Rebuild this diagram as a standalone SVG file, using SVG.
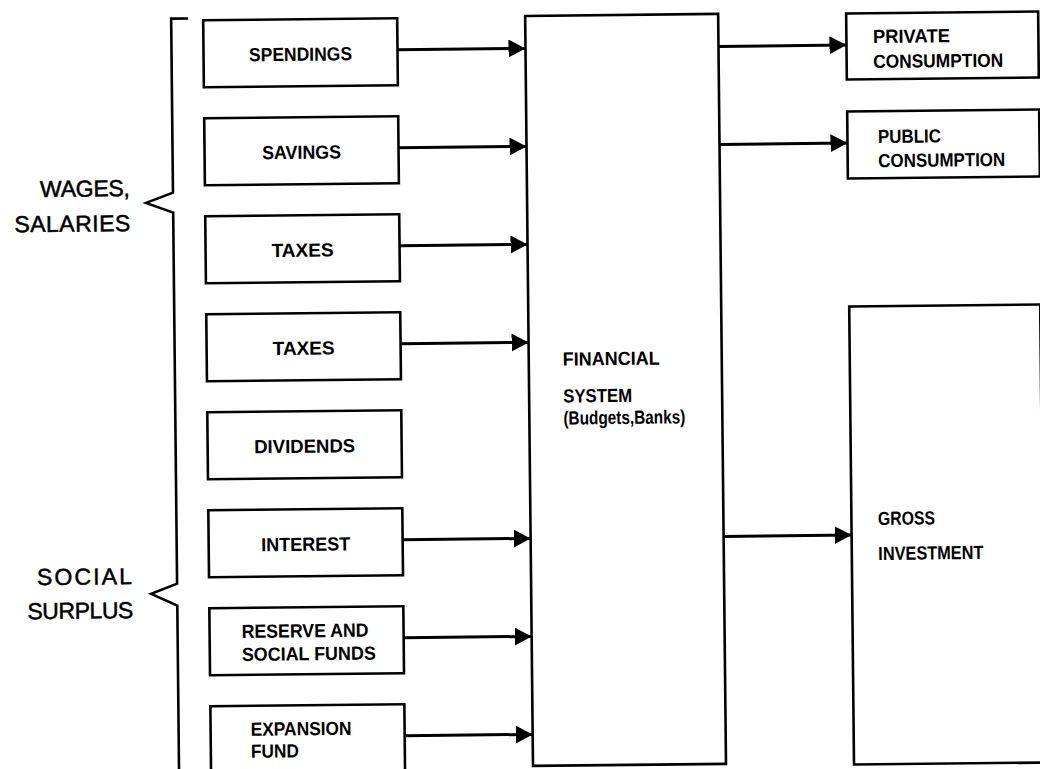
<svg xmlns="http://www.w3.org/2000/svg" width="1040" height="769" viewBox="0 0 1040 769">
<style>
.box{fill:#fff;stroke:#000;stroke-width:2.6}
.lbl{font-family:"Liberation Sans",Arial,sans-serif;font-weight:bold;font-size:19px;fill:#000}
.mid{text-anchor:middle}
.side{font-family:"Liberation Sans",Arial,sans-serif;font-size:23px;fill:#000;stroke:#000;stroke-width:0.5;text-anchor:end}
.con{stroke:#000;stroke-width:3;fill:none;marker-end:url(#ah)}
.br{stroke:#000;stroke-width:2.6;fill:none;stroke-linejoin:miter}
</style>
<defs>
<marker id="ah" markerUnits="userSpaceOnUse" markerWidth="18" markerHeight="19" refX="17" refY="9" orient="auto">
<path d="M0,0 L17,9 L0,18 z" fill="#000"/>
</marker>
</defs>
<rect width="1040" height="769" fill="#fff"/>
<g transform="rotate(-0.6 520 384)">
<g id="bracket">
<path class="br" d="M192,15 H175 V189 L148,199 L175,209 V580 L149,590 L175,602 V790"/>
<text class="side" x="132" y="192" textLength="90">WAGES,</text>
<text class="side" x="132" y="227" textLength="116">SALARIES</text>
<text class="side" x="130" y="580" textLength="95">SOCIAL</text>
<text class="side" x="131" y="614" textLength="106">SURPLUS</text>
</g>
<g id="spendings"><rect class="box" x="207" y="17" width="194" height="67"/><text class="lbl mid" x="304" y="58.5" textLength="103" lengthAdjust="spacingAndGlyphs">SPENDINGS</text></g>
<g id="savings"><rect class="box" x="207" y="115" width="194" height="67"/><text class="lbl mid" x="304" y="156.5" textLength="79" lengthAdjust="spacingAndGlyphs">SAVINGS</text></g>
<g id="taxes1"><rect class="box" x="207" y="213" width="194" height="67"/><text class="lbl mid" x="304" y="254.5" textLength="62" lengthAdjust="spacingAndGlyphs">TAXES</text></g>
<g id="taxes2"><rect class="box" x="207" y="311" width="194" height="67"/><text class="lbl mid" x="304" y="352.5" textLength="62" lengthAdjust="spacingAndGlyphs">TAXES</text></g>
<g id="dividends"><rect class="box" x="207" y="409" width="194" height="67"/><text class="lbl mid" x="304" y="450.5" textLength="101" lengthAdjust="spacingAndGlyphs">DIVIDENDS</text></g>
<g id="interest"><rect class="box" x="207" y="507" width="194" height="67"/><text class="lbl mid" x="304" y="548.5" textLength="89" lengthAdjust="spacingAndGlyphs">INTEREST</text></g>
<g id="reserve"><rect class="box" x="207" y="605" width="194" height="67"/><text class="lbl" x="239" y="635" textLength="127" lengthAdjust="spacingAndGlyphs">RESERVE AND</text><text class="lbl" x="239" y="658" textLength="134" lengthAdjust="spacingAndGlyphs">SOCIAL FUNDS</text></g>
<g id="expansion"><rect class="box" x="207" y="703" width="194" height="70"/><text class="lbl" x="247" y="733" textLength="101" lengthAdjust="spacingAndGlyphs">EXPANSION</text><text class="lbl" x="247" y="755" textLength="48" lengthAdjust="spacingAndGlyphs">FUND</text></g>
<g id="financial"><rect class="box" x="529" y="16" width="193" height="750"/><text class="lbl" x="563" y="366" textLength="97" lengthAdjust="spacingAndGlyphs">FINANCIAL</text><text class="lbl" x="563" y="403" textLength="69" lengthAdjust="spacingAndGlyphs">SYSTEM</text><text class="lbl" x="563" y="425" font-size="15" textLength="122" lengthAdjust="spacingAndGlyphs">(Budgets,Banks)</text></g>
<g id="private"><rect class="box" x="850" y="17" width="192" height="66"/><text class="lbl" x="876.5" y="46.7" textLength="77" lengthAdjust="spacingAndGlyphs">PRIVATE</text><text class="lbl" x="876.5" y="71.7" textLength="130" lengthAdjust="spacingAndGlyphs">CONSUMPTION</text></g>
<g id="public"><rect class="box" x="850" y="115" width="192" height="67"/><text class="lbl" x="880.5" y="146.8" textLength="63" lengthAdjust="spacingAndGlyphs">PUBLIC</text><text class="lbl" x="880.5" y="171" textLength="127" lengthAdjust="spacingAndGlyphs">CONSUMPTION</text></g>
<g id="gross"><rect class="box" x="850" y="310" width="191" height="458"/><text class="lbl" x="876.5" y="528.7" textLength="57" lengthAdjust="spacingAndGlyphs">GROSS</text><text class="lbl" x="876.5" y="563.7" textLength="105" lengthAdjust="spacingAndGlyphs">INVESTMENT</text></g>
<g id="connectors">
<line class="con" x1="401" y1="48.5" x2="529" y2="48.5"/>
<line class="con" x1="401" y1="146.5" x2="529" y2="146.5"/>
<line class="con" x1="401" y1="244.5" x2="529" y2="244.5"/>
<line class="con" x1="401" y1="342.5" x2="529" y2="342.5"/>
<line class="con" x1="401" y1="538.5" x2="529" y2="538.5"/>
<line class="con" x1="401" y1="636.5" x2="529" y2="636.5"/>
<line class="con" x1="401" y1="734.5" x2="529" y2="734.5"/>
<line class="con" x1="722" y1="48.5" x2="850" y2="48.5"/>
<line class="con" x1="722" y1="146.5" x2="850" y2="146.5"/>
<line class="con" x1="722" y1="538.5" x2="850" y2="538.5"/>
</g>
</g>
</svg>
